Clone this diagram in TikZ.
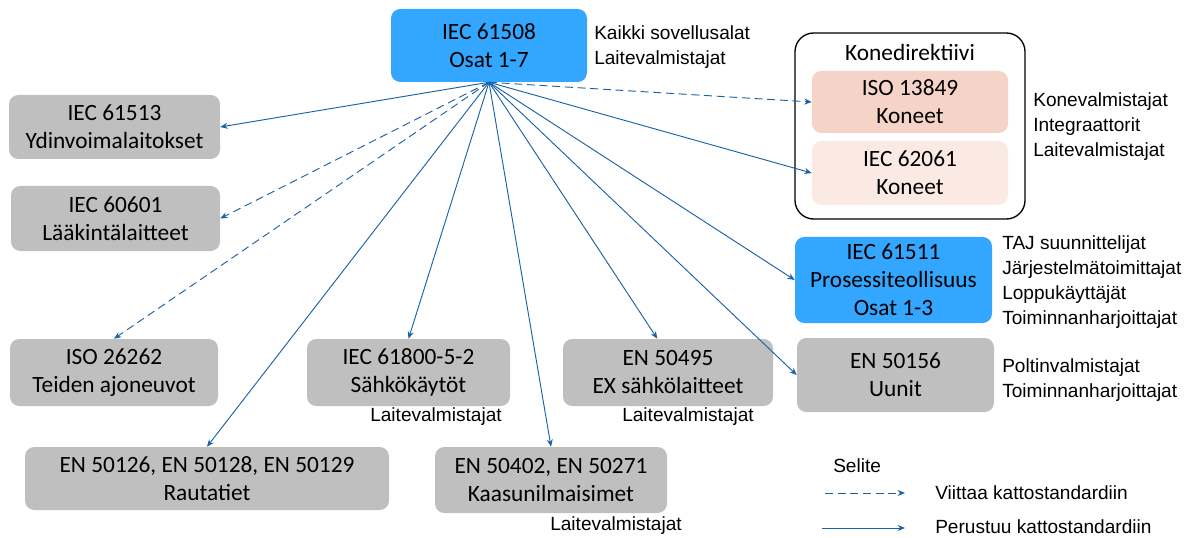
\documentclass[tikz,border=0pt]{standalone}
\usepackage{fontspec}
\setmainfont{Carlito}
\newfontfamily\arialfont{Liberation Sans}
\usetikzlibrary{arrows.meta}
\definecolor{stdblue}{RGB}{51,166,255}
\definecolor{stdgray}{RGB}{191,191,191}
\definecolor{salmon}{RGB}{245,211,199}
\definecolor{lightsalmon}{RGB}{251,233,228}
\definecolor{arrowblue}{RGB}{25,98,168}
\begin{document}
\begin{tikzpicture}[x=0.75pt,y=-0.75pt,
    stdbox/.style={rounded corners=7pt, align=center, inner sep=0pt,
      font=\fontsize{17.5}{21}\selectfont},
    graybox/.style={stdbox, fill=stdgray},
    bluebox/.style={stdbox, fill=stdblue},
    lbl/.style={align=left, inner sep=0pt, anchor=west,
      font=\arialfont\fontsize{14.3}{18.75}\selectfont},
    based/.style={draw=arrowblue, line width=0.7pt, -{Stealth[length=5.5pt,width=4.5pt]}},
    refers/.style={based, dash pattern=on 6pt off 3.5pt}]
    \useasboundingbox (0,0) rectangle (1191,538);
    % top standard
    \node[bluebox, minimum width=147pt, minimum height=54.75pt] (iec61508) at (489,45.5) {IEC 61508\\Osat 1-7};
    \node[lbl] (lbl61508) at (594,47.5) {Kaikki sovellusalat\\Laitevalmistajat};
    % left column
    \node[graybox, minimum width=158.25pt, minimum height=48pt] (iec61513) at (114.5,127) {IEC 61513\\Ydinvoimalaitokset};
    \node[graybox, minimum width=156.75pt, minimum height=48.75pt] (iec60601) at (115.5,218.5) {IEC 60601\\Lääkintälaitteet};
    \node[graybox, minimum width=156pt, minimum height=50.25pt] (iso26262) at (114,372.5) {ISO 26262\\Teiden ajoneuvot};
    \node[graybox, minimum width=273pt, minimum height=47.25pt] (en50126) at (207,478.5) {EN 50126, EN 50128, EN 50129\\Rautatiet};
    % middle
    \node[graybox, minimum width=152.25pt, minimum height=50.25pt] (iec61800) at (408.5,372.5) {IEC 61800-5-2\\Sähkökäytöt};
    \node[lbl] (lbl61800) at (370,417) {Laitevalmistajat};
    \node[graybox, minimum width=157.5pt, minimum height=50.25pt] (en50495) at (668,372.5) {EN 50495\\EX sähkölaitteet};
    \node[lbl] (lbl50495) at (622,417) {Laitevalmistajat};
    \node[graybox, minimum width=174pt, minimum height=49.5pt] (en50402) at (551,480) {EN 50402, EN 50271\\Kaasunilmaisimet};
    \node[lbl] (lbl50402) at (550,526) {Laitevalmistajat};
    % machinery directive
    \node[draw, line width=1pt, rounded corners=14pt, minimum width=172.5pt, minimum height=139.5pt] (koned) at (910,126) {};
    \node[stdbox] (konedtitle) at (910,52) {Konedirektiivi};
    \node[stdbox, fill=salmon, minimum width=147pt, minimum height=46.5pt] (iso13849) at (910,102) {ISO 13849\\Koneet};
    \node[stdbox, fill=lightsalmon, minimum width=147pt, minimum height=48pt] (iec62061) at (910,173) {IEC 62061\\Koneet};
    \node[lbl] (lblkoned) at (1033,126.5) {Konevalmistajat\\Integraattorit\\Laitevalmistajat};
    % right column
    \node[bluebox, minimum width=147.75pt, minimum height=64.5pt] (iec61511) at (893.5,280) {IEC 61511\\Prosessiteollisuus\\Osat 1-3};
    \node[lbl] (lbl61511) at (1002,282) {TAJ suunnittelijat\\Järjestelmätoimittajat\\Loppukäyttäjät\\Toiminnanharjoittajat};
    \node[graybox, minimum width=147.75pt, minimum height=55.5pt] (en50156) at (895.5,375) {EN 50156\\Uunit};
    \node[lbl] (lbl50156) at (1002,380.5) {Poltinvalmistajat\\Toiminnanharjoittajat};
    % connectors
    \foreach \t in {iec61513.east, en50126.north, iec61800.north, en50402.north,
                    en50156.west, iec61511.west, iec62061.west}
      \draw[based] (iec61508.south) -- (\t);
    \draw[based] (iec61508.south) -- ([xshift=-8pt]en50495.north);
    \foreach \t in {iec60601.east, iso26262.north, iso13849.west}
      \draw[refers] (iec61508.south) -- (\t);
    % legend
    \node[lbl] (selite) at (833,466) {Selite};
    \coordinate (refa) at (825,493);
    \coordinate (refb) at (905,493);
    \coordinate (basa) at (822,528);
    \coordinate (basb) at (905,528);
    \draw[refers] (refa) -- (refb);
    \draw[based] (basa) -- (basb);
    \node[lbl] (lblrefers) at (935,493) {Viittaa kattostandardiin};
    \node[lbl] (lblbased) at (935,527) {Perustuu kattostandardiin};
\end{tikzpicture}
\end{document}
